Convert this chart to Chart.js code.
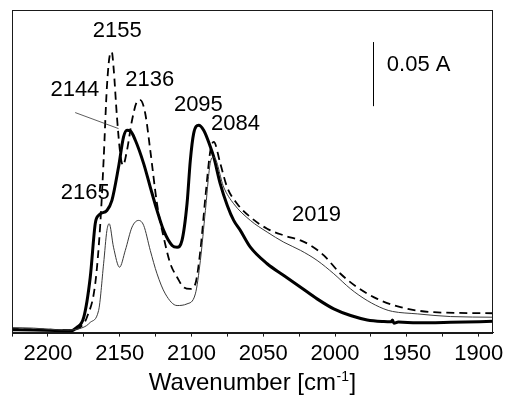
<!DOCTYPE html>
<html>
<head>
<meta charset="utf-8">
<script src="https://cdn.jsdelivr.net/npm/chart.js@4.4.0/dist/chart.umd.min.js"></script>
<style>
  html, body { margin: 0; padding: 0; background: #fff; }
</style>
</head>
<body>
<canvas id="spectrum" width="508" height="395"></canvas>
<script>
// Spectra: wavenumber (cm-1) and absorbance (A)
const thickWn = [2226, 2210, 2195, 2185, 2180, 2175, 2170.5, 2167, 2164.7, 2158.9, 2155.4, 2150.8, 2147.3, 2144.9, 2142.6, 2139.1, 2133.3, 2128.7, 2124, 2119.4, 2113.5, 2110, 2106.6, 2103.1, 2100.8, 2098.5, 2095, 2091.5, 2086.8, 2084.5, 2080, 2075, 2070.6, 2066, 2059, 2047.3, 2035.7, 2024, 2012.5, 2000.9, 1989.2, 1977.6, 1966, 1961, 1960, 1959, 1956, 1943, 1919.5, 1889];
const thickAbs = [0.0023, 0.002, 0.0016, 0.0012, 0.0039, 0.012, 0.0432, 0.0852, 0.0914, 0.0953, 0.1031, 0.1291, 0.1526, 0.1578, 0.1573, 0.15, 0.1318, 0.1135, 0.0953, 0.0797, 0.068, 0.0666, 0.0719, 0.1005, 0.1344, 0.1552, 0.1617, 0.1578, 0.1448, 0.137, 0.1162, 0.099, 0.0875, 0.0797, 0.0666, 0.0537, 0.0445, 0.0354, 0.0263, 0.0185, 0.0133, 0.0099, 0.0086, 0.0084, 0.0098, 0.0072, 0.0082, 0.0076, 0.008, 0.0088];

const dashWn = [2226, 2200, 2185, 2180, 2177.5, 2172.8, 2167, 2163.5, 2161.2, 2158.9, 2156.6, 2155.5, 2154.3, 2151.9, 2149.6, 2147.7, 2144.9, 2141.4, 2138, 2135.6, 2132.2, 2128.7, 2124, 2119.4, 2114.7, 2110, 2105.5, 2100.8, 2097.3, 2093.8, 2090.3, 2086.8, 2084.5, 2079.9, 2075.2, 2068.2, 2059, 2047.3, 2035.7, 2024, 2017, 2007.8, 1996.2, 1984.6, 1970.6, 1954.4, 1931.2, 1889];
const dashAbs = [0.0027, 0.0023, 0.002, 0.0027, 0.0041, 0.012, 0.0383, 0.0849, 0.1344, 0.1916, 0.2177, 0.2188, 0.2073, 0.1682, 0.1396, 0.1305, 0.1422, 0.1656, 0.1799, 0.1813, 0.1709, 0.1422, 0.1005, 0.0745, 0.0537, 0.0432, 0.0354, 0.0341, 0.038, 0.0641, 0.1057, 0.1422, 0.1487, 0.1318, 0.1135, 0.1005, 0.0901, 0.081, 0.0758, 0.0719, 0.068, 0.0602, 0.0459, 0.0354, 0.0263, 0.0198, 0.0159, 0.0151];

const thinWn = [2226, 2210, 2195, 2185, 2178, 2173, 2170.5, 2164.7, 2161.2, 2158.9, 2157.3, 2154.3, 2150.1, 2146.1, 2141.4, 2136.8, 2133.3, 2128.7, 2124, 2118.2, 2110, 2103.1, 2097.3, 2093.8, 2090.3, 2086.8, 2084.5, 2077.6, 2070.6, 2059, 2047.3, 2035.7, 2024, 2012.5, 2000.9, 1989.2, 1977.6, 1966, 1960, 1942.7, 1919.5, 1889];
const thinAbs = [0.0039, 0.0035, 0.0023, 0.002, 0.0031, 0.0055, 0.008, 0.0172, 0.0537, 0.0797, 0.0849, 0.0666, 0.051, 0.0641, 0.0823, 0.0875, 0.0836, 0.0641, 0.0459, 0.0302, 0.0211, 0.0224, 0.0302, 0.0563, 0.0953, 0.133, 0.137, 0.1135, 0.1005, 0.0875, 0.0784, 0.0705, 0.0641, 0.0563, 0.0459, 0.0341, 0.025, 0.0185, 0.0165, 0.0146, 0.0125, 0.012];

// x axis tick labels (every 50 cm-1, minor ticks every 25)
const tickLabels = ["2200", "2150", "2100", "2050", "2000", "1950", "1900"];

// peak labels, placed in data units (wavenumber, absorbance)
const peakText = ["2155", "2136", "2144", "2095", "2084", "2165", "2019"];
const peakWn = [2151.7, 2129.0, 2181.2, 2095.2, 2069.4, 2174.0, 2012.9];
const peakAbs = [0.2355, 0.1973, 0.1895, 0.1777, 0.1625, 0.1086, 0.0914];

// leader line from the 2144 label to the peak
const leaderWn = [2181.0, 2150.8];
const leaderAbs = [0.1716, 0.1591];

// 0.05 A scale bar
const scaleBarWn = 1973.7;
const scaleBarAbs = [0.1766, 0.2266];
const scaleBarText = "0.05 A";
const scaleBarTextWn = 1941.8;
const scaleBarTextAbs = 0.2086;

function toPoints(xs, ys) {
  return xs.map((x, i) => ({ x: x, y: ys[i] }));
}

const FONT = "'Liberation Sans', Arial, sans-serif";

const overlay = {
  id: "overlay",
  afterDraw(chart) {
    const { ctx, chartArea, scales } = chart;
    const xs = scales.x;
    const ys = scales.y;
    ctx.save();

    // frame round the plot
    ctx.strokeStyle = "#1a1a1a";
    ctx.lineWidth = 1;
    ctx.strokeRect(
      Math.round(chartArea.left) + 0.5,
      Math.round(chartArea.top) + 0.5,
      Math.round(chartArea.width) - 1,
      Math.round(chartArea.height)
    );

    // peak labels
    ctx.fillStyle = "#000";
    ctx.font = "22px " + FONT;
    ctx.textAlign = "center";
    ctx.textBaseline = "middle";
    peakText.forEach((t, i) => {
      ctx.fillText(t, xs.getPixelForValue(peakWn[i]), ys.getPixelForValue(peakAbs[i]));
    });

    // leader line
    ctx.strokeStyle = "#333";
    ctx.lineWidth = 0.8;
    ctx.beginPath();
    ctx.moveTo(xs.getPixelForValue(leaderWn[0]), ys.getPixelForValue(leaderAbs[0]));
    ctx.lineTo(xs.getPixelForValue(leaderWn[1]), ys.getPixelForValue(leaderAbs[1]));
    ctx.stroke();

    // scale bar
    const bx = Math.round(xs.getPixelForValue(scaleBarWn)) + 0.5;
    ctx.strokeStyle = "#000";
    ctx.lineWidth = 1;
    ctx.beginPath();
    ctx.moveTo(bx, ys.getPixelForValue(scaleBarAbs[0]));
    ctx.lineTo(bx, ys.getPixelForValue(scaleBarAbs[1]));
    ctx.stroke();
    ctx.fillText(scaleBarText, xs.getPixelForValue(scaleBarTextWn), ys.getPixelForValue(scaleBarTextAbs));

    // axis title with superscript
    const main = "Wavenumber [cm";
    const sup = "-1";
    const close = "]";
    ctx.textAlign = "left";
    ctx.textBaseline = "alphabetic";
    ctx.font = "24px " + FONT;
    const w1 = ctx.measureText(main).width;
    const w3 = ctx.measureText(close).width;
    ctx.font = "14px " + FONT;
    const w2 = ctx.measureText(sup).width;
    const total = w1 + w2 + w3 + 1;
    let x0 = (chartArea.left + chartArea.right) / 2 - total / 2;
    const base = 390;
    ctx.font = "24px " + FONT;
    ctx.fillText(main, x0, base);
    ctx.font = "14px " + FONT;
    ctx.fillText(sup, x0 + w1 + 0.5, base - 9);
    ctx.font = "24px " + FONT;
    ctx.fillText(close, x0 + w1 + w2 + 1, base);

    ctx.restore();
  },
};

const ctx = document.getElementById("spectrum").getContext("2d");

const chart = new Chart(ctx, {
  type: "line",
  data: {
    datasets: [
      {
        label: "thin",
        data: toPoints(thinWn, thinAbs),
        borderColor: "#3a3a3a",
        borderWidth: 1,
        pointRadius: 0,
        cubicInterpolationMode: "monotone",
      },
      {
        label: "dashed",
        data: toPoints(dashWn, dashAbs),
        borderColor: "#000",
        borderWidth: 1.8,
        borderDash: [8, 5],
        pointRadius: 0,
        cubicInterpolationMode: "monotone",
      },
      {
        label: "thick",
        data: toPoints(thickWn, thickAbs),
        borderColor: "#000",
        borderWidth: 3,
        pointRadius: 0,
        cubicInterpolationMode: "monotone",
      },
    ],
  },
  options: {
    responsive: false,
    animation: false,
    layout: {
      padding: { left: 12, right: 15, top: 10, bottom: 24 },
    },
    plugins: {
      legend: { display: false },
      tooltip: { enabled: false },
    },
    scales: {
      x: {
        type: "linear",
        reverse: true,
        min: 1890,
        max: 2225,
        border: { display: true, color: "#1a1a1a", width: 1 },
        grid: {
          drawOnChartArea: false,
          drawTicks: true,
          tickLength: 4,
          color: "#1a1a1a",
        },
        ticks: {
          stepSize: 25,
          includeBounds: false,
          autoSkip: false,
          maxRotation: 0,
          padding: 4,
          color: "#000",
          font: { family: FONT, size: 22 },
          callback: function (value) {
            const s = String(value);
            return tickLabels.includes(s) ? s : "";
          },
        },
      },
      y: {
        display: false,
        min: 0,
        max: 0.2516,
      },
    },
  },
  plugins: [overlay],
});
</script>
</body>
</html>
